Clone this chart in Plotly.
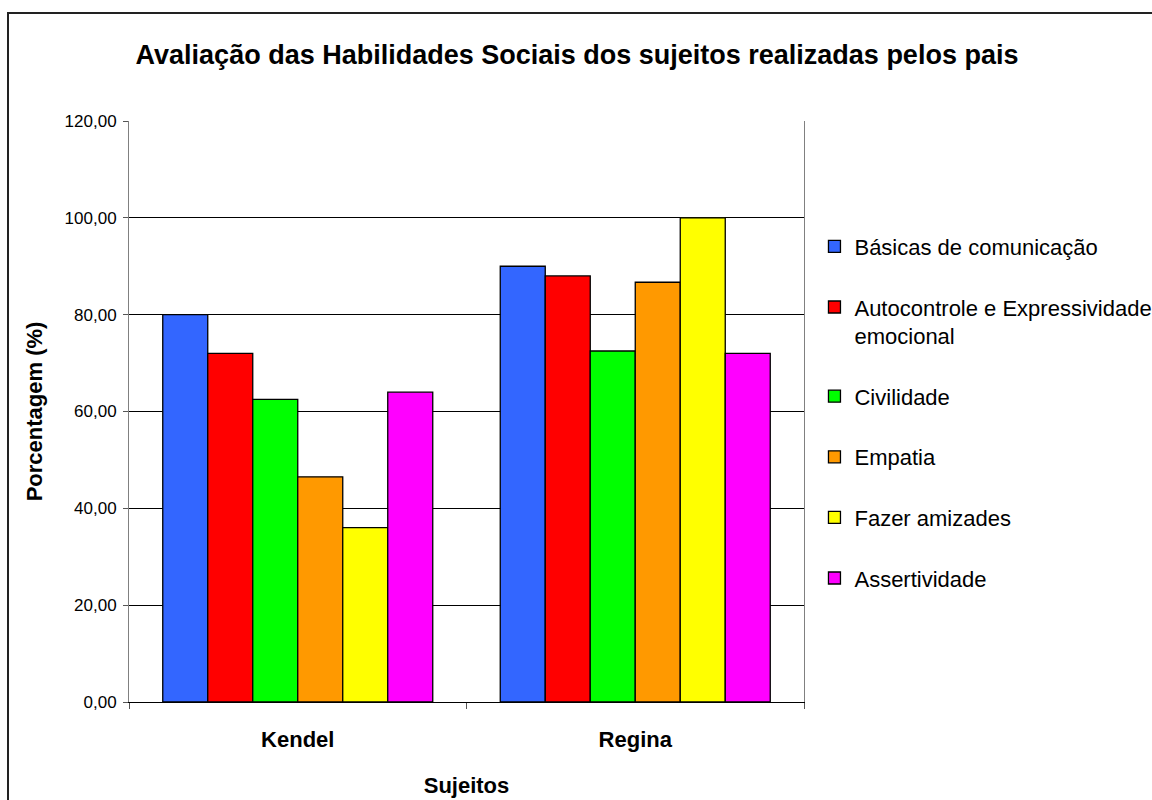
import plotly.graph_objects as go

subjects = ["Kendel", "Regina"]
skills = [
    "Básicas de comunicação",
    "Autocontrole e Expressividade<br>emocional",
    "Civilidade",
    "Empatia",
    "Fazer amizades",
    "Assertividade",
]
basicas = [80.0, 90.0]
autocontrole = [72.0, 88.0]
civilidade = [62.5, 72.5]
empatia = [46.5, 86.7]
amizades = [36.0, 100.0]
assertividade = [64.0, 72.0]
series_values = [basicas, autocontrole, civilidade, empatia, amizades, assertividade]
colors = ["#3366FF", "#FF0000", "#00FF00", "#FF9900", "#FFFF00", "#FF00FF"]
y_ticks = [0, 20, 40, 60, 80, 100, 120]

FONT = "Liberation Sans, Arial, sans-serif"

fig = go.Figure()
for i, (name, vals, col) in enumerate(zip(skills, series_values, colors)):
    fig.add_trace(go.Bar(
        x=subjects, y=vals, name=name, legendgroup=f"g{i}",
        marker=dict(color=col, line=dict(color="#000000", width=1.3)),
    ))

fig.update_layout(
    width=1152, height=800,
    margin=dict(l=129, r=348, t=121, b=98, autoexpand=False),
    paper_bgcolor="white", plot_bgcolor="white",
    separators=",.",
    barmode="group", bargap=0.2, bargroupgap=0,
    font=dict(family=FONT, color="black", size=17),
    title=dict(
        text="<b>Avaliação das Habilidades Sociais dos sujeitos realizadas pelos pais</b>",
        x=577 / 1152, xref="container", xanchor="center",
        y=1 - 55 / 800, yref="container", yanchor="middle",
        font=dict(family=FONT, size=27, color="black"),
    ),
    legend=dict(
        x=1.0155, xanchor="left", y=0.82, yanchor="top",
        font=dict(family=FONT, size=22, color="black"),
        traceorder="grouped", tracegroupgap=29, valign="top",
        bgcolor="rgba(0,0,0,0)",
    ),
    showlegend=True,
)

fig.update_xaxes(
    showline=True, linecolor="#000000", linewidth=1,
    ticks="outside", tickson="boundaries", ticklen=6, tickcolor="#555555",
    tickfont=dict(family=FONT, size=22, color="black", weight="bold"),
    ticklabelstandoff=18,
    title=dict(text="<b>Sujeitos</b>", font=dict(family=FONT, size=22, color="black"), standoff=26),
    showgrid=False,
)
fig.update_yaxes(
    range=[0, 120], tickvals=y_ticks, tickformat=".2f",
    showline=True, linecolor="#808080", linewidth=1, mirror=True,
    ticks="outside", ticklen=5, tickcolor="#555555",
    ticklabelstandoff=3,
    showgrid=True, gridcolor="#000000", gridwidth=1,
    zeroline=False,
    tickfont=dict(family=FONT, size=17, color="black"),
    title=dict(text="<b>Porcentagem (%)</b>", font=dict(family=FONT, size=22, color="black"), standoff=15),
)

# outer chart border
fig.add_shape(
    type="rect", xref="paper", yref="paper",
    x0=(8 - 129) / 675, x1=(1160 - 129) / 675,
    y0=(702 - 810) / 581, y1=(702 - 13) / 581,
    line=dict(color="#222222", width=2), fillcolor="rgba(0,0,0,0)", layer="below",
)

fig.write_html("out.html")
